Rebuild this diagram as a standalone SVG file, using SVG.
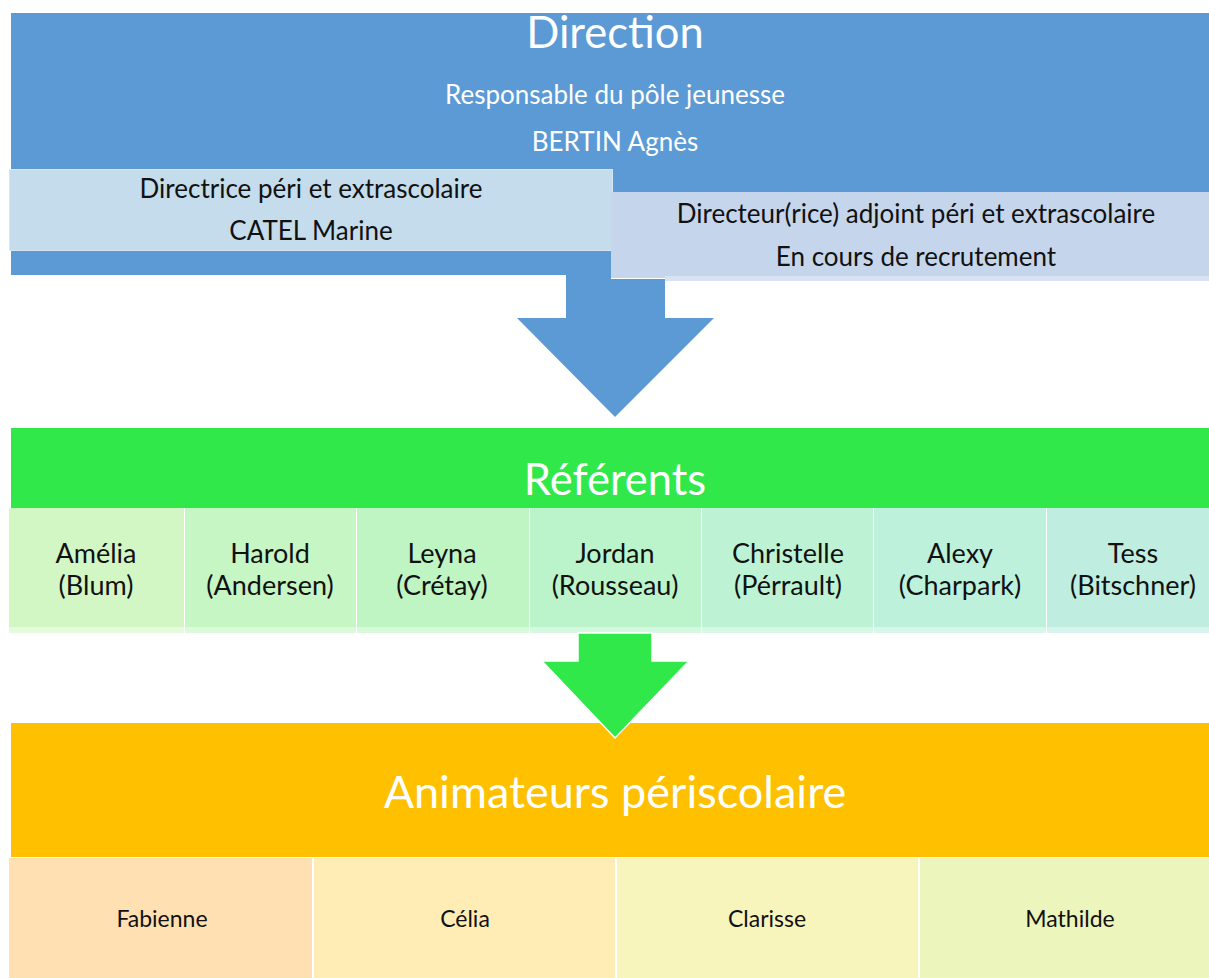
<svg xmlns="http://www.w3.org/2000/svg" width="1209" height="978" viewBox="0 0 1209 978">
<style>
text{font-family:Lato,"Liberation Sans",sans-serif;text-anchor:middle}
.hw{fill:#ffffff}
.dk{fill:#111111}
.h1{font-size:43.5px}
.h2{font-size:26px}
.n{font-size:26px}
.r{font-size:27px}
.s{font-size:23px}
</style>
<rect width="1209" height="978" fill="#ffffff"/>
<g id="direction">
<rect x="11" y="13" width="1198" height="262" fill="#5B9AD5"/>
<text class="hw h1" x="615" y="48">Direction</text>
<text class="hw h2" x="615" y="104">Responsable du pôle jeunesse</text>
<text class="hw h2" x="615" y="151">BERTIN Agnès</text>
</g>
<g id="directrice">
<rect x="9" y="169" width="604" height="82" fill="#C4DCEC"/>
<rect x="9.5" y="169.5" width="603" height="81" fill="none" stroke="#D6E6F2" stroke-width="1"/>
<text class="dk n" x="311" y="198">Directrice péri et extrascolaire</text>
<text class="dk n" x="311" y="240">CATEL Marine</text>
</g>
<g id="adjoint">
<rect x="611" y="192" width="598" height="86" fill="#C5D6EC"/>
<rect x="665" y="276" width="544" height="5" fill="#D7E3F4"/>
<text class="dk n" x="916" y="223">Directeur(rice) adjoint péri et extrascolaire</text>
<text class="dk n" x="916" y="266">En cours de recrutement</text>
</g>
<g id="referents">
<rect x="11" y="428" width="1198" height="80" fill="#30E84A"/>
<text class="hw h1" x="615" y="495">Référents</text>
</g>
<g id="ref-amelia">
<rect x="9" y="508" width="175" height="119" fill="#D3F7C4"/>
<rect x="9" y="627" width="175" height="6" fill="#E6FADD"/>
<text class="dk r" x="96" y="563">Amélia</text><text class="dk r" x="96" y="595">(Blum)</text>
</g>
<g id="ref-harold">
<rect x="185" y="508" width="171" height="119" fill="#C6F6C3"/>
<rect x="185" y="627" width="171" height="6" fill="#DDF9DB"/>
<text class="dk r" x="270" y="563">Harold</text><text class="dk r" x="270" y="595">(Andersen)</text>
</g>
<g id="ref-leyna">
<rect x="357" y="508" width="172" height="119" fill="#BEF5C3"/>
<rect x="357" y="627" width="172" height="6" fill="#D9F9DB"/>
<text class="dk r" x="442" y="563">Leyna</text><text class="dk r" x="442" y="595">(Crétay)</text>
</g>
<g id="ref-jordan">
<rect x="530" y="508" width="171" height="119" fill="#BBF3CA"/>
<rect x="530" y="627" width="171" height="6" fill="#D7F8E0"/>
<text class="dk r" x="615" y="563">Jordan</text><text class="dk r" x="615" y="595">(Rousseau)</text>
</g>
<g id="ref-christelle">
<rect x="702" y="508" width="171" height="119" fill="#BDF3D4"/>
<rect x="702" y="627" width="171" height="6" fill="#D8F8E6"/>
<text class="dk r" x="788" y="563">Christelle</text><text class="dk r" x="788" y="595">(Pérrault)</text>
</g>
<g id="ref-alexy">
<rect x="874" y="508" width="172" height="119" fill="#BDF1DB"/>
<rect x="874" y="627" width="172" height="6" fill="#D8F7EA"/>
<text class="dk r" x="960" y="563">Alexy</text><text class="dk r" x="960" y="595">(Charpark)</text>
</g>
<g id="ref-tess">
<rect x="1047" y="508" width="162" height="119" fill="#BFEDE0"/>
<rect x="1047" y="627" width="162" height="6" fill="#D9F4EE"/>
<text class="dk r" x="1133" y="563">Tess</text><text class="dk r" x="1133" y="595">(Bitschner)</text>
</g>
<g id="animateurs">
<rect x="11" y="723" width="1198" height="134" fill="#FFC000"/>
<text class="hw" style="font-size:45px" x="615" y="808">Animateurs périscolaire</text>
</g>
<g id="anim-fabienne">
<rect x="9" y="858" width="303" height="120" fill="#FFE0B3"/>
<text class="dk s" x="162" y="927">Fabienne</text>
</g>
<g id="anim-celia">
<rect x="314" y="858" width="301" height="120" fill="#FFEDB5"/>
<text class="dk s" x="465" y="927">Célia</text>
</g>
<g id="anim-clarisse">
<rect x="617" y="858" width="301" height="120" fill="#F8F5BC"/>
<text class="dk s" x="767" y="927">Clarisse</text>
</g>
<g id="anim-mathilde">
<rect x="920" y="858" width="289" height="120" fill="#ECF5BC"/>
<text class="dk s" x="1070" y="927">Mathilde</text>
</g>
<g id="connectors">
<polygon points="566,275 611,275 611,279 665,279 665,318 714,318 615,417 517,318 566,318" fill="#5B9AD5"/>
<polygon points="578,633 652,633 652,661 689,661 615,738 542,661 578,661" fill="#30E84A" stroke="#ffffff" stroke-width="1.5" stroke-linejoin="miter"/>
</g>
</svg>
